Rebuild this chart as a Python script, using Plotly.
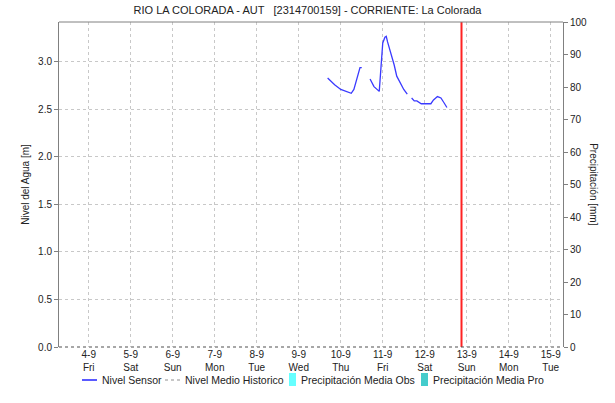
import plotly.graph_objects as go

# Sensor water level (m); None separates the gaps in the record
sensor_time = [
    "2020-09-09 16:30", "2020-09-09 20:30", "2020-09-10 00:00", "2020-09-10 03:00",
    "2020-09-10 06:00", "2020-09-10 07:30", "2020-09-10 09:30", "2020-09-10 11:00",
    "2020-09-10 12:00", "2020-09-10 14:00",
    "2020-09-10 16:45", "2020-09-10 19:00", "2020-09-10 22:00", "2020-09-10 23:00",
    "2020-09-11 00:00", "2020-09-11 01:15", "2020-09-11 02:00", "2020-09-11 02:45",
    "2020-09-11 04:45", "2020-09-11 06:30", "2020-09-11 08:00", "2020-09-11 10:00",
    "2020-09-11 12:00", "2020-09-11 14:00", "2020-09-11 15:15",
    "2020-09-11 16:30", "2020-09-11 17:15", "2020-09-11 18:00", "2020-09-11 19:30",
    "2020-09-11 22:00", "2020-09-12 03:30", "2020-09-12 05:00", "2020-09-12 07:15",
    "2020-09-12 09:15", "2020-09-12 11:00", "2020-09-12 12:40",
]
sensor_level = [
    2.83, 2.76, 2.71, 2.69,
    2.67, 2.71, 2.85, 2.94,
    2.94, None,
    2.82, 2.74, 2.69, 2.99,
    3.20, 3.26, 3.27, 3.21,
    3.09, 2.97, 2.85, 2.78,
    2.71, 2.66, None,
    2.62, 2.60, 2.59, 2.59,
    2.56, 2.56, 2.60, 2.635,
    2.62, 2.57, 2.52,
]

# Day ticks along the time axis
day_ticks = ["2020-09-%02d" % d for d in range(4, 16)]
day_labels = ["4-9<br>Fri", "5-9<br>Sat", "6-9<br>Sun", "7-9<br>Mon", "8-9<br>Tue",
              "9-9<br>Wed", "10-9<br>Thu", "11-9<br>Fri", "12-9<br>Sat", "13-9<br>Sun",
              "14-9<br>Mon", "15-9<br>Tue"]

# Historical mean level (no values in this window) and daily precipitation (mm)
hist_time = day_ticks
hist_level = [None] * len(day_ticks)
precip_obs_time = day_ticks
precip_obs = [0] * len(day_ticks)
precip_pro_time = day_ticks
precip_pro = [0] * len(day_ticks)

now_time = "2020-09-12 21:00"
x_range = ["2020-09-03 07:00", "2020-09-15 07:00"]

FONT = "Liberation Sans"
GRID = "#c8c8c8"
AXIS = "#808080"
TEXT = "#222222"

W, H = 615, 403
ML, MR, MT, MB = 59, 52, 22, 56
PW, PH = W - ML - MR, H - MT - MB

fig = go.Figure()
fig.add_trace(go.Scatter(x=sensor_time, y=sensor_level, mode="lines", name="Nivel Sensor",
                         line=dict(color="#3a3aff", width=1.3), connectgaps=False))
fig.add_trace(go.Scatter(x=hist_time, y=hist_level, mode="lines", name="Nivel Medio Historico",
                         line=dict(color="#b4b4b4", width=1.5, dash="dash")))
fig.add_trace(go.Bar(x=precip_obs_time, y=precip_obs, name="Precipitación Media Obs",
                     marker=dict(color="#66ffff", line=dict(width=0)), yaxis="y2"))
fig.add_trace(go.Bar(x=precip_pro_time, y=precip_pro, name="Precipitación Media Pro",
                     marker=dict(color="#44cccc", line=dict(width=0)), yaxis="y2"))

# Current-time marker
fig.add_shape(type="line", xref="x", yref="paper", x0=now_time, x1=now_time, y0=0, y1=1,
              line=dict(color="#ff2222", width=2), layer="above")
# Dotted baseline along the bottom of the plot
fig.add_shape(type="line", xref="paper", yref="paper", x0=0, x1=1, y0=0, y1=0,
              line=dict(color="#505050", width=1.2, dash="dot"))
# Top border of the plot area
fig.add_shape(type="line", xref="paper", yref="paper", x0=0, x1=1, y0=1, y1=1,
              line=dict(color=AXIS, width=1))


def px_x(px):
    return (px - ML) / PW


def px_y(py):
    return (H - MB - py) / PH


# Compact single-row legend under the axis, built from the traces
legend_y = 380
legend_slots = [82, 165, 289, 421]
for trace, left in zip(fig.data, legend_slots):
    trace.showlegend = False
    if trace.type == "scatter":
        if trace.line.dash:
            # short dashes for the dashed series
            for seg in range(3):
                fig.add_shape(type="line", xref="paper", yref="paper",
                              x0=px_x(left + seg * 6), x1=px_x(left + seg * 6 + 3),
                              y0=px_y(legend_y), y1=px_y(legend_y),
                              line=dict(color=trace.line.color, width=1.5))
        else:
            fig.add_shape(type="line", xref="paper", yref="paper",
                          x0=px_x(left), x1=px_x(left + 15),
                          y0=px_y(legend_y), y1=px_y(legend_y),
                          line=dict(color="#0000ff", width=1.3))
        text_x = left + 18
    else:
        fig.add_shape(type="rect", xref="paper", yref="paper",
                      x0=px_x(left), x1=px_x(left + 7),
                      y0=px_y(legend_y + 6), y1=px_y(legend_y - 7),
                      line=dict(width=0), fillcolor=trace.marker.color)
        text_x = left + 10
    fig.add_annotation(text=trace.name, xref="paper", yref="paper", x=px_x(text_x),
                       y=px_y(legend_y), xanchor="left", yanchor="middle", showarrow=False,
                       font=dict(family=FONT, size=10.5, color=TEXT))

fig.update_layout(
    width=W, height=H,
    margin=dict(l=ML, r=MR, t=MT, b=MB, autoexpand=False),
    paper_bgcolor="white", plot_bgcolor="white",
    font=dict(family=FONT, size=10, color=TEXT),
    title=dict(text="RIO LA COLORADA - AUT&nbsp;&nbsp;&nbsp;[2314700159] - CORRIENTE: La Colorada",
               x=0.5, xanchor="center", y=0.985, yanchor="top",
               font=dict(family=FONT, size=11, color=TEXT)),
    xaxis=dict(type="date", range=x_range, tickmode="array", tickvals=day_ticks,
               ticktext=day_labels, showgrid=True, gridcolor=GRID, griddash="dot",
               gridwidth=1, showline=False, ticks="", zeroline=False,
               tickfont=dict(size=10)),
    yaxis=dict(range=[0, 3.42], tickmode="array", tickvals=[0, 0.5, 1, 1.5, 2, 2.5, 3],
               ticktext=["0.0", "0.5", "1.0", "1.5", "2.0", "2.5", "3.0"],
               showgrid=True, gridcolor=GRID, griddash="dot", zeroline=False,
               showline=True, linecolor=AXIS, linewidth=1, ticks="outside", ticklen=4,
               tickcolor=AXIS,
               title=dict(text="Nivel del Agua [m]", standoff=6, font=dict(size=10))),
    yaxis2=dict(range=[0, 100], overlaying="y", side="right", tickmode="array",
                tickvals=list(range(0, 101, 10)), showgrid=False, zeroline=False,
                showline=True, linecolor=AXIS, linewidth=1, ticks="outside", ticklen=4,
                tickcolor=AXIS),
    showlegend=False,
    bargap=0.5,
)

# Right-hand axis title, reading top to bottom
fig.add_annotation(text="Precipitación [mm]", xref="paper", yref="paper", x=1.075, y=0.5,
                   textangle=90, showarrow=False, font=dict(family=FONT, size=10, color=TEXT))

fig.write_html("out.html")
